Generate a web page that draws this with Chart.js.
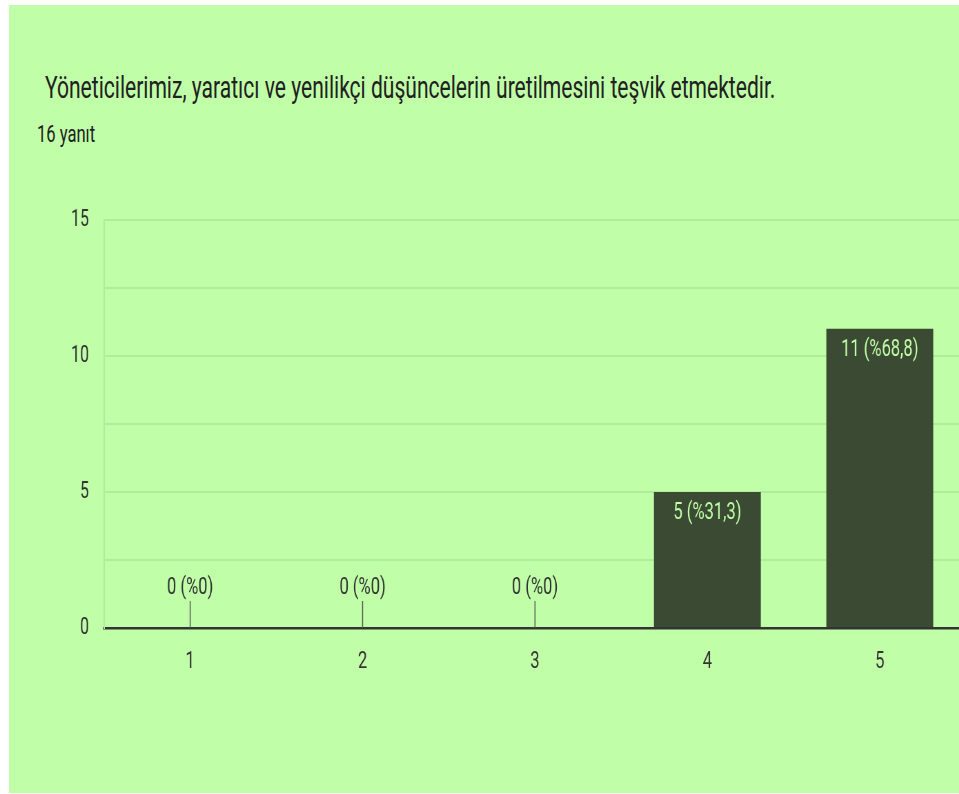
<!DOCTYPE html>
<html>
<head>
<meta charset="utf-8">
<script src="https://cdn.jsdelivr.net/npm/chart.js@4"></script>
<style>
  html, body { margin: 0; padding: 0; background: #fff; overflow: hidden; }
  #wrap { position: absolute; left: 0; top: 0; height: 794px; transform-origin: 0 0; overflow: hidden; }
  #panel { position: absolute; top: 5px; bottom: 1px; right: 0; background: #c0ffa8; overflow: hidden; font-family: Roboto, sans-serif; }
  #title { position: absolute; top: 67px; font-size: 30.5px; line-height: 31px; color: #212121; white-space: nowrap; }
  #sub { position: absolute; top: 117px; font-size: 24px; line-height: 24px; color: #212121; white-space: nowrap; }
  #box { position: absolute; left: 0; top: 0; height: 788px; }
</style>
</head>
<body>
<div id="wrap">
  <div id="panel">
    <div id="title">Yöneticilerimiz, yaratıcı ve yenilikçi düşüncelerin üretilmesini teşvik etmektedir.</div>
    <div id="sub">16 yanıt</div>
    <div id="box"><canvas id="canvas1"></canvas></div>
  </div>
</div>
<script>
// the picture is squeezed sideways, so the whole page is drawn wide and scaled back
const S = 0.69;

const categories = ['1', '2', '3', '4', '5'];
const answers = [0, 0, 0, 5, 11];
const yTicks = [0, 5, 10, 15];

const total = answers.reduce((a, b) => a + b, 0);

function pct(v) {
  let p = v / total * 100;
  if (Number.isInteger(p)) return String(p);
  return p.toFixed(1).replace('.', ',');
}

let wrap = document.getElementById('wrap');
wrap.style.width = (959 / S) + 'px';
wrap.style.transform = 'scaleX(' + S + ')';
let panel = document.getElementById('panel');
panel.style.left = (9 / S) + 'px';
document.getElementById('title').style.left = (36 / S) + 'px';
document.getElementById('sub').style.left = (28 / S) + 'px';
let box = document.getElementById('box');
box.style.width = (980 / S) + 'px';

const barLabels = {
  id: 'barLabels',
  afterDatasetsDraw(chart) {
    const ctx = chart.ctx;
    const meta = chart.getDatasetMeta(0);
    ctx.save();
    ctx.font = '24px Roboto, sans-serif';
    ctx.textAlign = 'center';
    ctx.textBaseline = 'middle';
    meta.data.forEach((bar, i) => {
      let v = answers[i];
      let txt = v + ' (%' + pct(v) + ')';
      if (v > 0) {
        ctx.fillStyle = '#c0ffa8';
        ctx.fillText(txt, bar.x, bar.y + 21);
      } else {
        ctx.fillStyle = '#333';
        ctx.fillText(txt, bar.x, bar.base - 40);
        ctx.strokeStyle = '#555';
        ctx.lineWidth = 1.5;
        ctx.beginPath();
        ctx.moveTo(bar.x, bar.base - 27);
        ctx.lineTo(bar.x, bar.base);
        ctx.stroke();
      }
    });
    ctx.restore();
  }
};

const ctx1 = document.getElementById('canvas1').getContext('2d');
const chart1 = new Chart(ctx1, {
  type: 'bar',
  data: {
    labels: categories,
    datasets: [{
      data: answers,
      backgroundColor: '#3b4a33',
      borderWidth: 0,
      barPercentage: 0.62,
      categoryPercentage: 1,
    }]
  },
  options: {
    responsive: true,
    maintainAspectRatio: false,
    animation: false,
    layout: { padding: { top: 215, left: 0, right: 23 / S, bottom: 105 } },
    scales: {
      x: {
        grid: { display: false, drawTicks: false },
        border: { display: true, color: '#333', width: 2.5 },
        ticks: { color: '#333', font: { family: 'Roboto', size: 24 }, padding: 20 },
        afterFit(scale) { scale.height = 60; }
      },
      y: {
        min: 0,
        max: 15,
        grid: { color: '#b1ec9b', lineWidth: 2, drawTicks: false },
        border: { display: true, color: '#b1ec9b', width: 2 },
        ticks: {
          stepSize: 2.5,
          color: '#333',
          padding: 15 / S,
          font: { family: 'Roboto', size: 23 },
          callback: (v) => yTicks.includes(v) ? String(v) : ''
        },
        afterFit(scale) { scale.width = 95 / S; }
      }
    },
    plugins: {
      legend: { display: false },
      tooltip: { enabled: false }
    }
  },
  plugins: [barLabels]
});
</script>
</body>
</html>
